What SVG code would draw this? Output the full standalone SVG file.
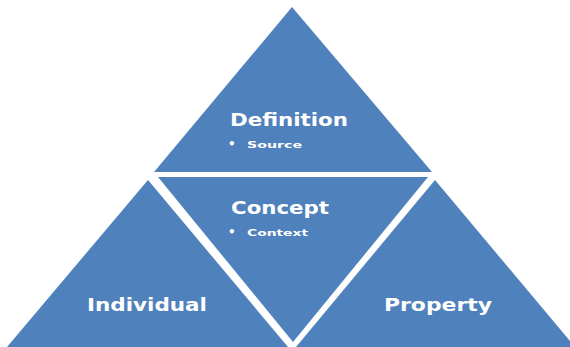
<svg xmlns="http://www.w3.org/2000/svg" width="570" height="347" viewBox="0 0 570 347">
<style>
.tri{fill:#4f81bd;}
.t{font-family:"DejaVu Sans","Liberation Sans",sans-serif;font-weight:bold;fill:#ffffff;}
.big{font-size:18px;}
.small{font-size:9px;}
.bul{font-size:12px;}
</style>
<rect width="570" height="347" fill="#ffffff"/>
<g id="definition">
<polygon class="tri" points="292,7 432,172 154,172"/>
<text class="t big" x="230" y="126" textLength="118" lengthAdjust="spacingAndGlyphs">Definition</text>
<text class="t bul" x="228" y="148">•</text>
<text class="t small" x="247" y="148" textLength="55" lengthAdjust="spacingAndGlyphs">Source</text>
</g>
<g id="concept">
<polygon class="tri" points="158,177 428,177 293,342"/>
<text class="t big" x="231" y="214" textLength="98" lengthAdjust="spacingAndGlyphs">Concept</text>
<text class="t bul" x="228" y="236">•</text>
<text class="t small" x="247" y="236" textLength="61" lengthAdjust="spacingAndGlyphs">Context</text>
</g>
<g id="individual">
<polygon class="tri" points="148,180 288,347 7,347"/>
<text class="t big" x="87" y="311" textLength="120" lengthAdjust="spacingAndGlyphs">Individual</text>
</g>
<g id="property">
<polygon class="tri" points="435,180 575,347 296,347"/>
<text class="t big" x="384" y="311" textLength="108" lengthAdjust="spacingAndGlyphs">Property</text>
</g>
<g id="connectors"></g>
</svg>
